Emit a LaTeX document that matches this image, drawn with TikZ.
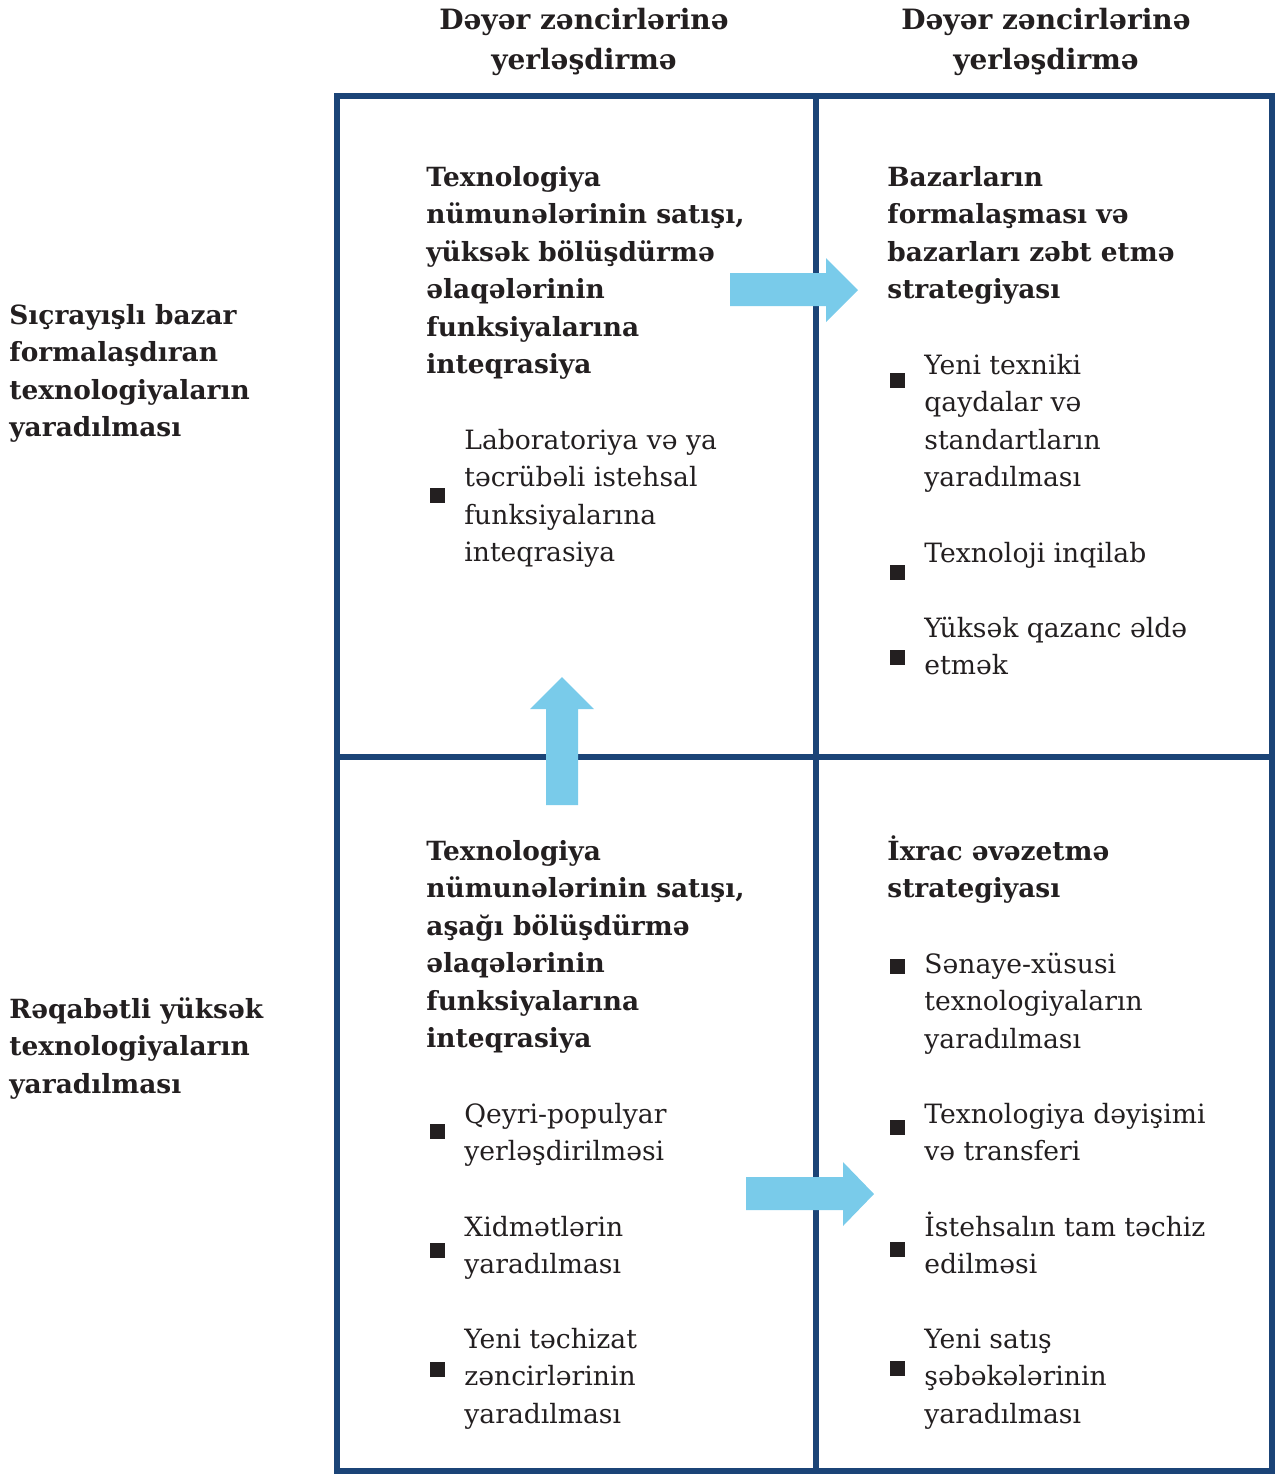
\documentclass[tikz,border=0pt]{standalone}
\usepackage{fontspec}
\setmainfont{DejaVu Serif}
\definecolor{framec}{HTML}{1B4477}
\definecolor{arrowc}{HTML}{79CBEA}
\definecolor{textc}{HTML}{231F20}
\begin{document}
\begin{tikzpicture}[x=0.5pt,y=-0.5pt,
  txt/.style={anchor=base west, align=left, inner sep=0, text=textc, font=\fontsize{13.3}{18.75}\selectfont},
  ttl/.style={txt, font=\bfseries\fontsize{13.2}{18.75}\selectfont},
  hdr/.style={anchor=base, align=center, inner sep=0, text=textc, font=\bfseries\fontsize{14}{20}\selectfont},
  bul/.style={fill=textc, minimum size=7.5pt, inner sep=0, draw=none},
  grid/.style={draw=framec, line width=3pt},
  blk/.style={fill=arrowc, draw=none}]
\useasboundingbox (0,0) rectangle (1276,1474);
% headers (anchors at the baseline of the last line)
\node[hdr] (h1) at (584,69) {Dəyər zəncirlərinə\\yerləşdirmə};
\node[hdr] (h2) at (1046,69) {Dəyər zəncirlərinə\\yerləşdirmə};
% row labels
\node[ttl] (r1) at (9,436.5) {Sıçrayışlı bazar\\formalaşdıran\\texnologiyaların\\yaradılması};
\node[ttl] (r2) at (9,1093) {Rəqabətli yüksək\\texnologiyaların\\yaradılması};
% grid
\draw[grid] (337,96) rectangle (1272,1471);
\draw[grid] (816,96) -- (816,1471);
\draw[grid] (337,757) -- (1272,757);
% quadrant TL
\node[ttl] (t1) at (426,373.5) {Texnologiya\\nümunələrinin satışı,\\yüksək bölüşdürmə\\əlaqələrinin\\funksiyalarına\\inteqrasiya};
\node[txt] (t1a) at (464,561.5) {Laboratoriya və ya\\təcrübəli istehsal\\funksiyalarına\\inteqrasiya};
\node[bul] (b1a) at (437,495) {};
% quadrant TR
\node[ttl] (t2) at (887,298.5) {Bazarların\\formalaşması və\\bazarları zəbt etmə\\strategiyası};
\node[txt] (t2a) at (924,486.5) {Yeni texniki\\qaydalar və\\standartların\\yaradılması};
\node[bul] (b2a) at (897,380) {};
\node[txt] (t2b) at (924,562) {Texnoloji inqilab};
\node[bul] (b2b) at (897,572) {};
\node[txt] (t2c) at (924,674.5) {Yüksək qazanc əldə\\etmək};
\node[bul] (b2c) at (897,657) {};
% quadrant BL
\node[ttl] (t3) at (426,1047.5) {Texnologiya\\nümunələrinin satışı,\\aşağı bölüşdürmə\\əlaqələrinin\\funksiyalarına\\inteqrasiya};
\node[txt] (t3a) at (464,1160.5) {Qeyri-populyar\\yerləşdirilməsi};
\node[bul] (b3a) at (437,1131) {};
\node[txt] (t3b) at (464,1273.5) {Xidmətlərin\\yaradılması};
\node[bul] (b3b) at (437,1250) {};
\node[txt] (t3c) at (464,1423) {Yeni təchizat\\zəncirlərinin\\yaradılması};
\node[bul] (b3c) at (437,1369) {};
% quadrant BR
\node[ttl] (t4) at (887,897.5) {İxrac əvəzetmə\\strategiyası};
\node[txt] (t4a) at (924,1048) {Sənaye-xüsusi\\texnologiyaların\\yaradılması};
\node[bul] (b4a) at (897,966) {};
\node[txt] (t4b) at (924,1160.5) {Texnologiya dəyişimi\\və transferi};
\node[bul] (b4b) at (897,1127) {};
\node[txt] (t4c) at (924,1273.5) {İstehsalın tam təchiz\\edilməsi};
\node[bul] (b4c) at (897,1249) {};
\node[txt] (t4d) at (924,1423) {Yeni satış\\şəbəkələrinin\\yaradılması};
\node[bul] (b4d) at (897,1368) {};
% block arrows
\fill[blk] (730,273) -- (826,273) -- (826,258) -- (858,290) -- (826,322) -- (826,306) -- (730,306) -- cycle;
\fill[blk] (546,805) -- (546,709) -- (530,709) -- (562,677) -- (594,709) -- (578,709) -- (578,805) -- cycle;
\fill[blk] (746,1177) -- (843,1177) -- (843,1162) -- (874,1194) -- (843,1226) -- (843,1210) -- (746,1210) -- cycle;
\end{tikzpicture}
\end{document}
